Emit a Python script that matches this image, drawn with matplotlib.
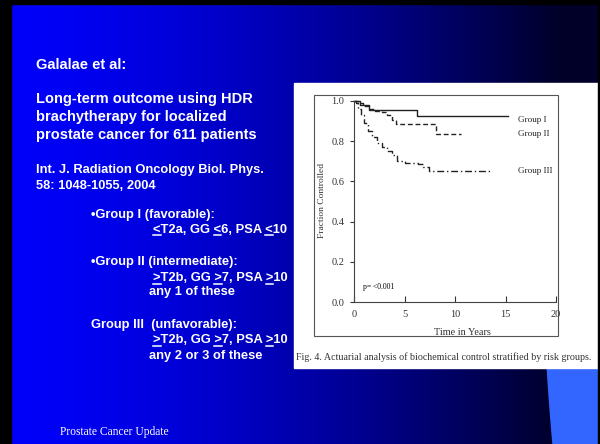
import numpy as np
import matplotlib; matplotlib.use("Agg")
import matplotlib.pyplot as plt
from matplotlib.patches import Rectangle, Polygon
from matplotlib.lines import Line2D
from matplotlib.font_manager import FontProperties

# survival curves (time in years, fraction controlled)
g1_t = [0, 0.6, 1.5, 6.2, 15.2]
g1_s = [1.0, 0.98, 0.956, 0.924, 0.924]
g2_t = [0, 0.4, 0.9, 1.5, 2.1, 2.8, 3.3, 3.8, 4.2, 8.1, 10.6]
g2_s = [1.0, 0.99, 0.975, 0.962, 0.952, 0.944, 0.93, 0.905, 0.884, 0.837, 0.837]
g3_t = [0, 0.2, 0.4, 0.7, 1.0, 1.4, 1.8, 2.3, 2.8, 3.3, 3.8, 4.3, 5.0, 6.3, 6.8, 7.4, 13.6]
g3_s = [1.0, 0.99, 0.96, 0.93, 0.89, 0.85, 0.82, 0.79, 0.77, 0.75, 0.73, 0.70, 0.69, 0.685, 0.67, 0.652, 0.652]
group_names = ["Group I", "Group II", "Group III"]
yticks = [0.0, 0.2, 0.4, 0.6, 0.8, 1.0]
xticks = [0, 5, 10, 15, 20]

W, H = 600, 444
fig = plt.figure(figsize=(6, 4.44), dpi=100)
fx = lambda x: x / W
fy = lambda y: 1 - y / H

# slide background: blue -> near black gradient
bg = fig.add_axes([0, 0, 1, 1], zorder=0)
xs = np.arange(W)
t = np.clip((xs - 11) / 549.0, 0, 1)
b = 40 + 210 * (1 - t ** 1.5)
img = np.zeros((1, W, 3))
img[0, :, 2] = b / 255
bg.imshow(img, aspect="auto", extent=[0, W, H, 0])
bg.add_patch(Rectangle((0, 0), 11, H, color="black"))
bg.add_patch(Rectangle((0, 0), W, 4, color="black"))
yy = np.linspace(340, H, 30)
edge = 546 + 7 * ((yy - 340) / 104) ** 1.3
bg.add_patch(Polygon(np.column_stack([np.r_[edge, W, W], np.r_[yy, H, 340]]), color="#3366ff"))
bg.add_patch(Rectangle((294, 83), 304, 285, color="white"))
bg.add_patch(Rectangle((598, 0), 2, H, color="black"))
bg.add_patch(Rectangle((314, 95), 244, 241, fill=False, ec="#555555", lw=0.8))
bg.set_xlim(0, W); bg.set_ylim(H, 0); bg.axis("off")

# left-hand text
sans_b = dict(color="white", fontweight="bold", family="Liberation Sans")
big, small = 10.5, 9.3
fig.text(fx(36), fy(69), "Galalae et al:", fontsize=big, **sans_b)
for y, s in [(103, "Long-term outcome using HDR"), (121, "brachytherapy for localized"),
             (139, "prostate cancer for 611 patients")]:
    fig.text(fx(36), fy(y), s, fontsize=big, **sans_b)
fig.text(fx(36), fy(173), "Int. J. Radiation Oncology Biol. Phys.", fontsize=small, **sans_b)
fig.text(fx(36), fy(189), "58: 1048-1055, 2004", fontsize=small, **sans_b)

lines = [(91, 218, "\u2022Group I (favorable):"), (153, 233, "<T2a, GG <6, PSA <10"),
         (91, 265, "\u2022Group II (intermediate):"), (153, 281, ">T2b, GG >7, PSA >10"),
         (149, 295, "any 1 of these"),
         (91, 328, "Group III  (unfavorable):"), (153, 343, ">T2b, GG >7, PSA >10"),
         (149, 359, "any 2 or 3 of these")]
for x, y, s in lines:
    fig.text(fx(x), fy(y), s, fontsize=small, **sans_b)

# underline the < and > signs (read as "or equal")
r = fig.canvas.get_renderer()
fp = FontProperties(family="Liberation Sans", weight="bold", size=small)
for x, y, s in lines:
    for i, c in enumerate(s):
        if c in "<>":
            w_end = r.get_text_width_height_descent(s[:i + 1], fp, ismath=False)[0]
            w_c = r.get_text_width_height_descent(c, fp, ismath=False)[0]
            x1, x0 = x + w_end, x + w_end - w_c
            fig.add_artist(Line2D([fx(x0), fx(x1)], [fy(y + 2.5)] * 2, color="white", lw=1.1))

fig.text(fx(60), fy(435), "Prostate Cancer Update", fontsize=8.3, color="white",
         family="Liberation Serif")

# the inset figure
ax = fig.add_axes([fx(354), fy(302), (556 - 354) / W, (302 - 101) / H], zorder=2)
ax.set_facecolor("none")
kw = dict(where="post", color="#222222", lw=1.0, clip_on=False)
ax.step(g1_t, g1_s, ls="-", **kw)
ax.step(g2_t, g2_s, ls=(0, (3.5, 2)), **kw)
ax.step(g3_t, g3_s, ls=(0, (5, 2, 1, 2)), **kw)
for name, s in zip(group_names, [0.905, 0.836, 0.652]):
    ax.text(16.2, s, name, fontsize=6.6, family="Liberation Serif", va="center", color="#222222")
ax.text(0.9, 0.077, "p= <0.001", fontsize=5.5, family="Liberation Serif", va="center")
ax.set_xlim(0, 20); ax.set_ylim(0, 1.0)
ax.set_yticks(yticks); ax.set_yticklabels([f"{v:.1f}" for v in yticks])
ax.set_xticks(xticks)
ax.spines[["top", "right"]].set_visible(False)
for sp in ax.spines.values():
    sp.set_color("#444444"); sp.set_linewidth(0.8)
ax.tick_params(axis="y", direction="out", length=3, width=0.8, pad=4, labelsize=7.5,
               colors="#333333")
ax.tick_params(axis="x", direction="in", length=4, width=0.8, pad=6, labelsize=7.5,
               colors="#333333")
for lab in ax.get_xticklabels() + ax.get_yticklabels():
    lab.set_family("Liberation Serif")

fig.text(fx(322), fy(200), "Fraction Controlled", rotation=90, fontsize=6.8,
         family="Liberation Serif", ha="center", va="center", color="#333333")
fig.text(fx(462), fy(332), "Time in Years", fontsize=7.4, family="Liberation Serif",
         ha="center", va="center", color="#333333")
fig.text(fx(296), fy(357), "Fig. 4. Actuarial analysis of biochemical control stratified by risk groups.",
         fontsize=7.2, family="Liberation Serif", va="center", color="#333333")

fig.savefig("out.png", dpi=100)
